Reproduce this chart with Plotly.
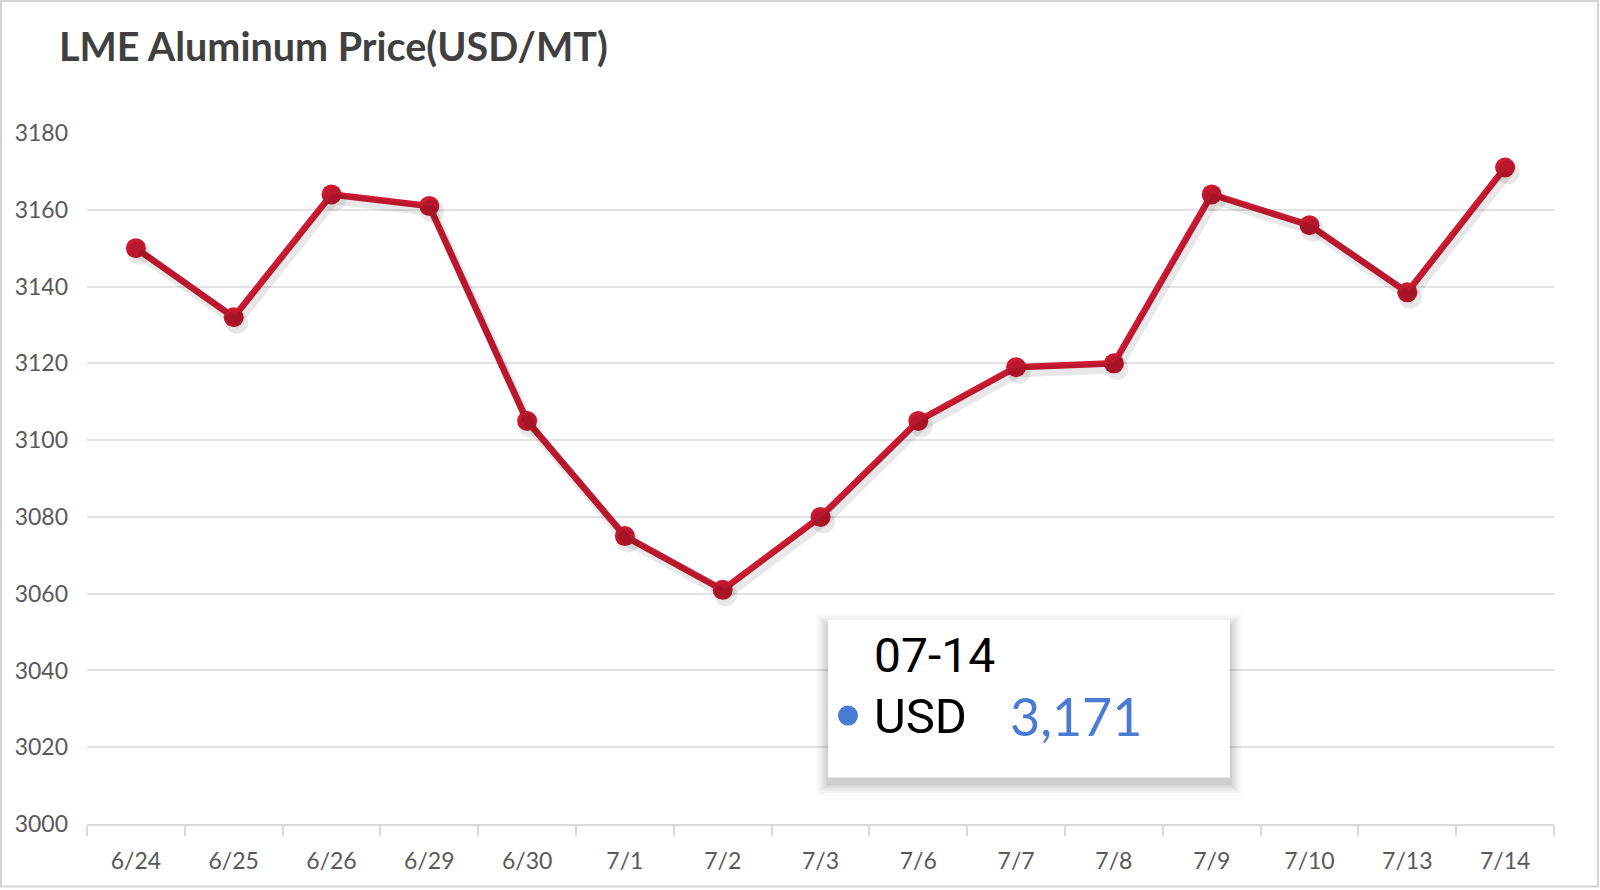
import plotly.graph_objects as go

dates = ["6/24", "6/25", "6/26", "6/29", "6/30", "7/1", "7/2", "7/3",
         "7/6", "7/7", "7/8", "7/9", "7/10", "7/13", "7/14"]
prices = [3150, 3132, 3164, 3161, 3105, 3075, 3061, 3080,
          3105, 3119, 3120, 3164, 3156, 3138.5, 3171]
y_ticks = [3000, 3020, 3040, 3060, 3080, 3100, 3120, 3140, 3160, 3180]
tip_date = "07-14"
tip_label = "USD"
tip_value = "3,171"

W, H = 1600, 890
PL, PR, PT, PB = 87, 1554, 133, 824.5
DX, DY = 3, 5  # shadow offset
ml, mr, mt, mb = PL, W - (PR + DX), PT, H - (PB + DY)
pw, ph = W - ml - mr, H - mt - mb


def px(x):
    return (x - ml) / pw


def py(y):
    return (H - mb - y) / ph


RED = "#CB1A32"
fig = go.Figure()

fig.add_trace(go.Scatter(
    x=dates, y=prices, mode="lines+markers", xaxis="x2", yaxis="y2",
    line=dict(color="rgba(0,0,0,0.09)", width=10),
    marker=dict(size=23, color="rgba(0,0,0,0.09)"),
    hoverinfo="skip", showlegend=False))

fig.add_trace(go.Scatter(
    x=dates, y=prices, mode="lines+markers",
    line=dict(color=RED, width=6.5),
    marker=dict(size=20, color=RED),
    name="USD", showlegend=False))

sx, sy = DX / pw, DY / ph
fig.update_layout(
    width=W, height=H,
    margin=dict(l=ml, r=mr, t=mt, b=mb),
    paper_bgcolor="white", plot_bgcolor="rgba(0,0,0,0)",
    title=dict(text="<b>LME Aluminum Price(USD/MT)</b>",
               font=dict(family="Lato", size=39.5, color="#404040"),
               x=59 / W, xref="container", xanchor="left",
               y=1 - 47 / H, yref="container", yanchor="middle"),
    xaxis=dict(type="category", tickson="boundaries", ticks="outside",
               ticklen=10, tickcolor="#d9d9d9", tickwidth=1.5,
               showline=True, linecolor="#d9d9d9", linewidth=2,
               showgrid=False, ticklabelstandoff=15,
               tickfont=dict(family="Lato", size=23, color="#595959"),
               range=[-0.5, len(dates) - 0.5], domain=[0, 1 - sx],
               anchor="y"),
    yaxis=dict(range=[3000, 3180], tickvals=y_ticks,
               showgrid=True, gridcolor="#e3e3e3", gridwidth=1.5,
               zeroline=False, showline=False, ticks="",
               ticklabelstandoff=18, domain=[sy, 1], anchor="x",
               tickfont=dict(family="Lato", size=23, color="#595959")),
    xaxis2=dict(type="category", visible=False,
                range=[-0.5, len(dates) - 0.5], domain=[sx, 1],
                anchor="y2"),
    yaxis2=dict(range=[3000, 3180], visible=False,
                domain=[0, 1 - sy], anchor="x2"),
)

shapes = []
shapes.append(dict(type="rect", xref="paper", yref="paper",
                   x0=px(1), x1=px(1598), y0=py(1), y1=py(887),
                   line=dict(color="#d4d4d4", width=2), layer="below"))
for i, a in enumerate([0.02, 0.03, 0.04, 0.05, 0.06]):
    d = 12 - i * 2.5
    shapes.append(dict(type="rect", xref="paper", yref="paper",
                       x0=px(828 - d), x1=px(1230 + d),
                       y0=py(620 - d + 6), y1=py(778 + d + 6),
                       fillcolor=f"rgba(0,0,0,{a})", line=dict(width=0),
                       layer="above"))
shapes.append(dict(type="rect", xref="paper", yref="paper",
                   x0=px(828), x1=px(1230), y0=py(620), y1=py(778),
                   fillcolor="white", line=dict(width=0), layer="above"))
shapes.append(dict(type="circle", xref="paper", yref="paper",
                   x0=px(838), x1=px(858), y0=py(706), y1=py(726),
                   fillcolor="#4A7BD3", line=dict(width=0), layer="above"))
fig.update_layout(shapes=shapes)

fig.add_annotation(text=tip_date, xref="paper", yref="paper",
                   x=px(872), y=py(656), xanchor="left", yanchor="middle",
                   showarrow=False,
                   font=dict(family="Roboto", size=48, color="#000000"))
fig.add_annotation(text=tip_label, xref="paper", yref="paper",
                   x=px(872), y=py(717), xanchor="left", yanchor="middle",
                   showarrow=False,
                   font=dict(family="Roboto", size=49, color="#000000"))
fig.add_annotation(text=tip_value, xref="paper", yref="paper",
                   x=px(1008), y=py(716), xanchor="left", yanchor="middle",
                   showarrow=False,
                   font=dict(family="Lato", size=52, color="#4A7BD3"))

fig.write_html("out.html")
